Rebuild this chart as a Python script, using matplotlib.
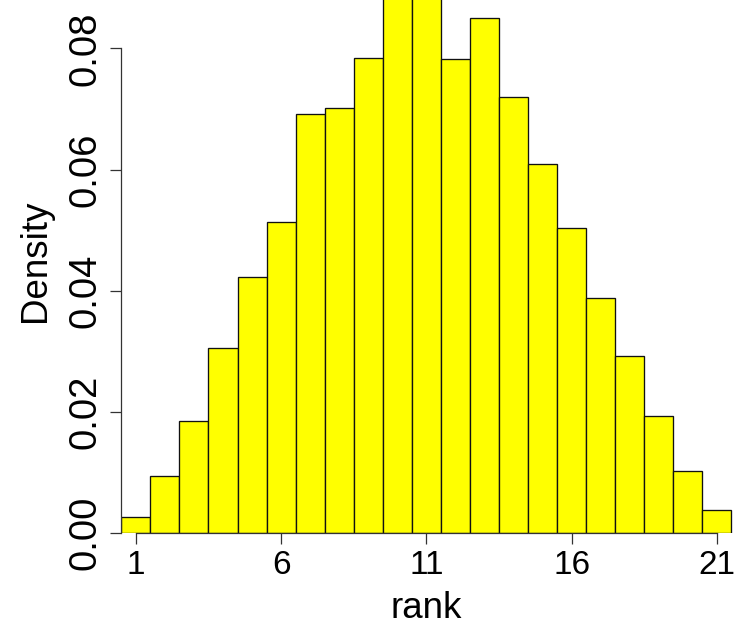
import matplotlib
matplotlib.use("Agg")
import matplotlib.pyplot as plt

# Histogram of ranks (density scale)
ranks = list(range(1, 22))
density = [0.00274, 0.0095, 0.01857, 0.03057, 0.04228, 0.05135, 0.06916,
           0.0702, 0.07835, 0.0897, 0.0895, 0.07823, 0.08495, 0.07202,
           0.06097, 0.05036, 0.03886, 0.02925, 0.01935, 0.01028, 0.00384]
xticks = [1, 6, 11, 16, 21]
yticks = [0.00, 0.02, 0.04, 0.06, 0.08]

plt.rcParams['font.family'] = ['Liberation Sans', 'DejaVu Sans']

W, H = 736, 621
fig = plt.figure(figsize=(W / 100, H / 100), dpi=100)
ax = fig.add_axes([120.5 / W, (H - 533.3) / H, (W - 120.5) / W, 533.3 / H])

ax.bar(ranks, density, width=1.0, color='#FFFF00', edgecolor='#111111',
       linewidth=0.95)

ax.set_xlim(0.472, 21.66)
ax.set_ylim(0, 0.08797)

for s in ['top', 'right']:
    ax.spines[s].set_visible(False)
for s in ['left', 'bottom']:
    ax.spines[s].set_linewidth(0.9)
    ax.spines[s].set_color('#333333')
ax.spines['left'].set_bounds(yticks[0], yticks[-1])
ax.spines['bottom'].set_bounds(xticks[0], xticks[-1])

ax.set_xticks(xticks)
ax.set_xticklabels([str(t) for t in xticks], fontsize=24)
ax.set_yticks(yticks)
ax.set_yticklabels([f"{t:.2f}" for t in yticks], rotation=90, va='center',
                   fontsize=27.5)
ax.tick_params(length=7.7, width=0.9, color='#333333')
ax.tick_params(axis='x', pad=4.5)
ax.tick_params(axis='y', pad=4.3)

fig.text(426 / W, (H - 617.5) / H, 'rank', fontsize=26.5, ha='center',
         va='baseline')
fig.text(45 / W, (H - 261) / H, 'Density', fontsize=26.5, rotation=90,
         rotation_mode='anchor', ha='center', va='baseline')

fig.savefig('out.png', dpi=100)
